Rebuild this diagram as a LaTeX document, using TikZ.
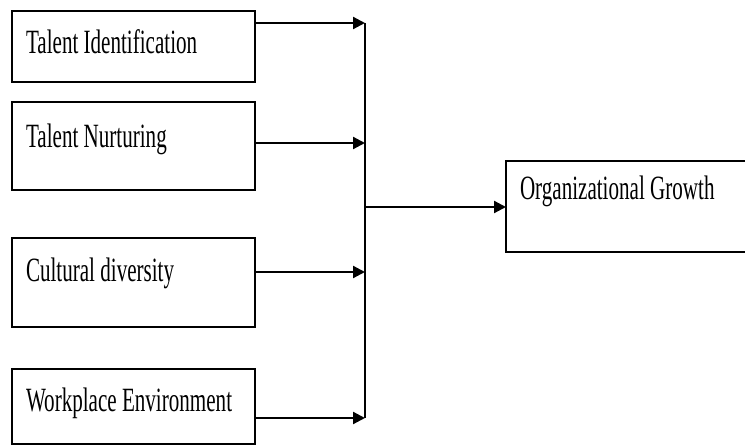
\documentclass[tikz,border=0pt]{standalone}
\usepackage{fontspec}
\setmainfont[FakeStretch=0.62]{Liberation Serif}
\usetikzlibrary{positioning, arrows.meta}

\begin{document}
\begin{tikzpicture}[
                x=1pt, y=-1pt,
                factor/.style={
                  draw, line width=1.5pt, anchor=north west,
                  inner xsep=14pt, inner ysep=0pt, outer sep=0pt,
                  text width=215pt, align=flush left,
                  font=\fontsize{34}{36}\selectfont
                },
                arrow/.style={draw, line width=2.2pt, -{Triangle[length=12pt, width=12pt]}}
              ]
              \useasboundingbox (0,0) rectangle (745,446);

              \node (ident) [factor, text height=43pt, text depth=28pt] at (12,11) {Talent Identification};
              \node (nurture) [factor, text height=46pt, text depth=42pt, below=20pt of ident.south west, anchor=north west] {Talent Nurturing};
              \node (culture) [factor, text height=44pt, text depth=45pt, below=48pt of nurture.south west, anchor=north west] {Cultural diversity};
              \node (workplace) [factor, text height=43pt, text depth=32pt, below=42pt of culture.south west, anchor=north west] {Workplace Environment};
              \node (growth) [factor, text width=240pt, text height=39pt, text depth=52pt] at (506,161) {Organizational Growth};

              \coordinate (j1) at (365,23);
              \coordinate (j2) at (365,143);
              \coordinate (j3) at (365,272);
              \coordinate (j4) at (365,418);
              \coordinate (jm) at (365,207);

              % Draw arrows
              \draw[arrow] (ident.east |- j1) -- (j1);
              \draw[arrow] (nurture.east |- j2) -- (j2);
              \draw[arrow] (culture.east |- j3) -- (j3);
              \draw[arrow] (workplace.east |- j4) -- (j4);
              \draw[line width=1.6pt] (j1) -- (j4);
              \draw[arrow] (jm) -- (jm -| growth.west);

            \end{tikzpicture}
\end{document}
